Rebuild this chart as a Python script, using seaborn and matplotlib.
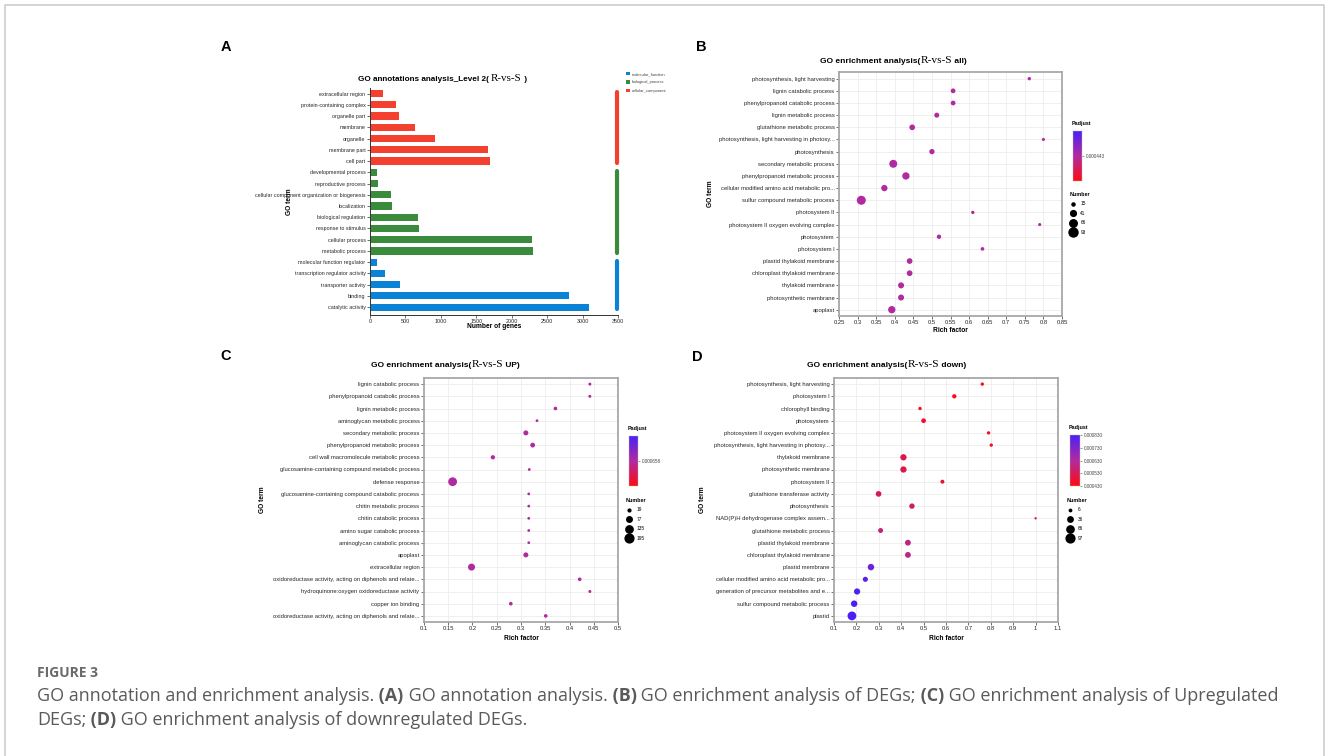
import numpy as np
import pandas as pd
import matplotlib
matplotlib.use('Agg')
import matplotlib.pyplot as plt
import seaborn as sns
from matplotlib.colors import LinearSegmentedColormap, Normalize
from matplotlib.lines import Line2D
from matplotlib.patches import Patch
import matplotlib.cm as cm

W, H = 1328, 756

# ---------------- data ----------------
# Panel A: GO annotation level 2 (top to bottom)
a_terms = ['extracellular region', 'protein-containing complex', 'organelle part', 'membrane',
           'organelle', 'membrane part', 'cell part',
           'developmental process', 'reproductive process',
           'cellular component organization or biogenesis', 'localization',
           'biological regulation', 'response to stimulus', 'cellular process', 'metabolic process',
           'molecular function regulator', 'transcription regulator activity',
           'transporter activity', 'binding', 'catalytic activity']
a_counts = [178, 366, 413, 632, 912, 1670, 1695,
            98, 108, 292, 305, 683, 688, 2280, 2302,
            95, 216, 427, 2812, 3088]
a_class = ['cellular_component'] * 7 + ['biological_process'] * 8 + ['molecular_function'] * 5
a_classes = ['molecular_function', 'biological_process', 'cellular_component']
a_colors = {'molecular_function': '#0a83d6', 'biological_process': '#3a8c3c',
            'cellular_component': '#f4412f'}

# Panel B: enrichment all
b_terms = ['photosynthesis, light harvesting', 'lignin catabolic process',
           'phenylpropanoid catabolic process', 'lignin metabolic process',
           'glutathione metabolic process', 'photosynthesis, light harvesting in photosy...',
           'photosynthesis', 'secondary metabolic process', 'phenylpropanoid metabolic process',
           'cellular modified amino acid metabolic pro...', 'sulfur compound metabolic process',
           'photosystem II', 'photosystem II oxygen evolving complex', 'photosystem',
           'photosystem I', 'plastid thylakoid membrane', 'chloroplast thylakoid membrane',
           'thylakoid membrane', 'photosynthetic membrane', 'apoplast']
b_rich = [0.762, 0.557, 0.557, 0.513, 0.447, 0.80, 0.50, 0.396, 0.43, 0.372, 0.31,
          0.61, 0.79, 0.519, 0.636, 0.44, 0.44, 0.417, 0.417, 0.392]
b_number = [17, 29, 29, 32, 40, 15, 35, 74, 63, 48, 93, 17, 15, 25, 19, 40, 40, 44, 44, 63]
b_padj = 0.000443
b_size_ticks = [15, 41, 66, 93]

# Panel C: enrichment up
c_terms = ['lignin catabolic process', 'phenylpropanoid catabolic process',
           'lignin metabolic process', 'aminoglycan metabolic process',
           'secondary metabolic process', 'phenylpropanoid metabolic process',
           'cell wall macromolecule metabolic process',
           'glucosamine-containing compound metabolic process', 'defense response',
           'glucosamine-containing compound catabolic process', 'chitin metabolic process',
           'chitin catabolic process', 'amino sugar catabolic process',
           'aminoglycan catabolic process', 'apoplast', 'extracellular region',
           'oxidoreductase activity, acting on diphenols and relate...',
           'hydroquinone:oxygen oxidoreductase activity', 'copper ion binding',
           'oxidoreductase activity, acting on diphenols and relate...']
c_rich = [0.442, 0.442, 0.371, 0.333, 0.310, 0.324, 0.242, 0.317, 0.159, 0.316, 0.316,
          0.316, 0.316, 0.316, 0.310, 0.198, 0.421, 0.442, 0.279, 0.351]
c_number = [22, 22, 33, 19, 63, 58, 46, 19, 195, 19, 19, 19, 19, 19, 63, 124, 33, 22, 33, 33]
c_padj = 0.000658
c_size_ticks = [19, 77, 135, 195]

# Panel D: enrichment down
d_terms = ['photosynthesis, light harvesting', 'photosystem I', 'chlorophyll binding',
           'photosystem', 'photosystem II oxygen evolving complex',
           'photosynthesis, light harvesting in photosy...', 'thylakoid membrane',
           'photosynthetic membrane', 'photosystem II', 'glutathione transferase activity',
           'photosynthesis', 'NAD(P)H dehydrogenase complex assem...',
           'glutathione metabolic process', 'plastid thylakoid membrane',
           'chloroplast thylakoid membrane', 'plastid membrane',
           'cellular modified amino acid metabolic pro...',
           'generation of precursor metabolites and e...', 'sulfur compound metabolic process',
           'plastid']
d_rich = [0.762, 0.637, 0.484, 0.50, 0.79, 0.802, 0.41, 0.41, 0.584, 0.299, 0.448, 1.0,
          0.308, 0.43, 0.43, 0.265, 0.24, 0.203, 0.19, 0.18]
d_number = [13, 22, 13, 27, 13, 13, 49, 49, 19, 40, 36, 6, 30, 42, 42, 52, 32, 48, 52, 97]
d_padj = [0.000435, 0.000440, 0.000445, 0.000470, 0.000450, 0.000455, 0.000510, 0.000510,
          0.000480, 0.000530, 0.000545, 0.000560, 0.000570, 0.000590, 0.000590, 0.000760,
          0.000800, 0.000815, 0.000825, 0.000830]
d_padj_ticks = [0.00043, 0.00053, 0.00063, 0.00073, 0.00083]
d_size_ticks = [6, 36, 66, 97]

# ---------------- style ----------------
plt.rcParams['font.family'] = ['Liberation Sans', 'DejaVu Sans']
plt.rcParams['axes.unicode_minus'] = False
cmap = LinearSegmentedColormap.from_list('padj', ['#ff0a0f', '#b02aa0', '#4a20f6'])
TEXTC = '#262626'


def box(l, t, r, b):
    return [l / W, 1 - b / H, (r - l) / W, (b - t) / H]


fig = plt.figure(figsize=(W / 100, H / 100), dpi=100)
fig.patch.set_facecolor('white')
bg = fig.add_axes([0, 0, 1, 1])
bg.set_xlim(0, W)
bg.set_ylim(H, 0)
bg.axis('off')

# frame of the figure card
bg.plot([4.5, 4.5, 1324, 1324], [H, 4.5, 4.5, H], color='#c9c9c9', lw=1.1)


def text_runs(x, y, parts):
    prev = None
    for s, kw in parts:
        if prev is None:
            prev = bg.text(x, y, s, va='baseline', ha='left', **kw)
        else:
            prev = bg.annotate(s, xy=(1, 0), xycoords=prev, va='bottom', ha='left', **kw)
    return prev


def title_runs(x, y, head, tail, size=6.0):
    bold = dict(fontsize=size, fontweight='bold', color='black')
    serif = dict(fontsize=size * 1.35, family=['Liberation Serif'], color='black')
    text_runs(x, y, [(head, bold), ('R-vs-S', serif), (tail, bold)])


# panel letters
for lab, (x, y) in zip('ABCD', [(226, 47), (701, 47), (226, 356), (697, 357)]):
    bg.text(x, y, lab, fontsize=10.5, fontweight='bold', ha='center', va='center')


def style_ticks(ax, size):
    ax.tick_params(axis='both', labelsize=size, length=2, width=0.5, pad=1.2,
                   colors='#333333', labelcolor=TEXTC)


# ---------------- panel A ----------------
axA = fig.add_axes(box(370, 88, 618, 315))
df_a = pd.DataFrame({'term': a_terms, 'count': a_counts, 'ontology': a_class})
sns.barplot(data=df_a, x='count', y='term', hue='ontology', palette=a_colors, dodge=False,
            width=0.64, saturation=1, legend=False, ax=axA)
axA.set_xlim(0, 3500)
axA.set_xticks(np.arange(0, 3501, 500))
axA.set_ylim(len(a_terms) - 0.3, -0.5)
for sp in ['top', 'right']:
    axA.spines[sp].set_visible(False)
for sp in ['left', 'bottom']:
    axA.spines[sp].set_color('#333333')
    axA.spines[sp].set_linewidth(0.7)
style_ticks(axA, 3.9)
axA.set_xlabel('Number of genes', fontsize=4.8, fontweight='bold')
axA.xaxis.set_label_coords(0.5, -(326 - 315) / 227)
axA.xaxis.label.set_va('center')
axA.set_ylabel('GO term', fontsize=4.8, fontweight='bold')
axA.yaxis.set_label_coords((289 - 370) / 248, 0.5)
axA.yaxis.label.set_va('center')
# ontology side bars
for cls in a_classes:
    idx = [i for i, c in enumerate(a_class) if c == cls]
    axA.plot([3483, 3483], [min(idx) - 0.1, max(idx) + 0.2], color=a_colors[cls], lw=3.0,
             solid_capstyle='round', clip_on=False)
axA.legend([Patch(facecolor=a_colors[c]) for c in a_classes], a_classes, loc='upper left',
           bbox_to_anchor=(626 / W, 1 - 72 / H), bbox_transform=fig.transFigure,
           frameon=False, fontsize=2.9, handlelength=1.0, handleheight=0.9,
           handletextpad=0.4, labelspacing=1.05, borderpad=0, borderaxespad=0,
           labelcolor='#444444')
title_runs(358, 81, 'GO annotations analysis_Level 2( ', ' )', size=5.9)


# ---------------- enrichment panels ----------------
def enrich(ax, terms, rich, number, padj, norm, sizes, size_norm, xlim, xstep):
    n = len(terms)
    if np.ndim(padj) == 0:
        padj = [padj] * n
    df = pd.DataFrame({'pos': np.arange(n), 'rich': rich, 'number': number, 'padj': padj})
    sns.scatterplot(data=df, x='rich', y='pos', hue='padj', hue_norm=norm, palette=cmap,
                    size='number', sizes=sizes, size_norm=size_norm, linewidth=0,
                    legend=False, ax=ax, zorder=3)
    ax.set_yticks(range(n))
    ax.set_yticklabels(terms)
    ax.set_ylim(n - 0.5, -0.5)
    ax.set_xlim(*xlim)
    ax.set_xticks(np.arange(xlim[0], xlim[1] + xstep / 2, xstep))
    ax.xaxis.set_major_formatter(matplotlib.ticker.FormatStrFormatter('%g'))
    ax.grid(True, color='#ececec', lw=0.6)
    ax.set_axisbelow(True)
    for sp in ax.spines.values():
        sp.set_color('#a8a8a8')
        sp.set_linewidth(1.3)
    style_ticks(ax, 4.2)
    ax.set_xlabel('Rich factor', fontsize=4.8, fontweight='bold')
    ax.xaxis.label.set_va('center')
    ax.set_ylabel('GO term', fontsize=4.8, fontweight='bold')
    ax.yaxis.label.set_va('center')


def size_of(v, sizes, size_norm):
    return sizes[0] + (v - size_norm[0]) / (size_norm[1] - size_norm[0]) * (sizes[1] - sizes[0])


def legends(ax, cax_box, norm, ticks, ticklabels, size_ticks, sizes, size_norm, leg_xy):
    cax = fig.add_axes(box(*cax_box))
    cb = fig.colorbar(cm.ScalarMappable(norm=norm, cmap=cmap), cax=cax)
    cb.outline.set_linewidth(0.3)
    cb.outline.set_edgecolor('#bbbbbb')
    cb.set_ticks(ticks)
    cb.set_ticklabels(ticklabels)
    cax.tick_params(labelsize=3.3, length=1.5, width=0.4, pad=1, colors='#444444')
    cax.text(-0.15, 1.1, 'Padjust', transform=cax.transAxes, fontsize=3.9,
             fontweight='bold', va='bottom', ha='left')
    handles = [Line2D([], [], ls='', marker='o', color='black',
                      markersize=np.sqrt(size_of(v, sizes, size_norm))) for v in size_ticks]
    leg = ax.legend(handles, [str(v) for v in size_ticks], title='Number', loc='upper left',
                    bbox_to_anchor=(leg_xy[0] / W, 1 - leg_xy[1] / H),
                    bbox_transform=fig.transFigure, frameon=False, fontsize=3.4,
                    title_fontproperties={'weight': 'bold', 'size': 3.9}, alignment='left',
                    handlelength=1.3, handletextpad=0.9, labelspacing=0.95, borderpad=0,
                    borderaxespad=0)
    return leg


# B
axB = fig.add_axes(box(839, 72, 1062, 316))
normB = Normalize(b_padj - 1e-5, b_padj + 1e-5)
szB, snB = (5, 42), (min(b_number), max(b_number))
enrich(axB, b_terms, b_rich, b_number, b_padj, normB, szB, snB, (0.25, 0.85), 0.05)
axB.set_ylim(len(b_terms) - 0.48, -0.55)
axB.xaxis.set_label_coords(0.5, -(331 - 316) / 244)
axB.yaxis.set_label_coords((711 - 839) / 223, 0.5)
legends(axB, (1073, 131, 1082, 181), normB, [b_padj], ['0.000443'], b_size_ticks, szB, snB,
        (1070, 192))
title_runs(820, 63, 'GO enrichment analysis(', ' all)', size=6.05)

# C
axC = fig.add_axes(box(424, 378, 618, 622))
normC = Normalize(c_padj - 1e-5, c_padj + 1e-5)
szC, snC = (4, 40), (min(c_number), max(c_number))
enrich(axC, c_terms, c_rich, c_number, c_padj, normC, szC, snC, (0.1, 0.5), 0.05)
axC.xaxis.set_label_coords(0.5, -(638 - 622) / 244)
axC.yaxis.set_label_coords((263 - 424) / 194, 0.5)
legends(axC, (629, 436, 638, 486), normC, [c_padj], ['0.000658'], c_size_ticks, szC, snC,
        (626, 498))
title_runs(371, 367, 'GO enrichment analysis(', ' UP)', size=6.05)

# D
axD = fig.add_axes(box(834, 378, 1058, 622))
normD = Normalize(min(d_padj_ticks), max(d_padj_ticks))
szD, snD = (3, 40), (min(d_number), max(d_number))
enrich(axD, d_terms, d_rich, d_number, d_padj, normD, szD, snD, (0.1, 1.1), 0.1)
axD.xaxis.set_label_coords(0.5, -(638 - 622) / 244)
axD.yaxis.set_label_coords((703 - 834) / 224, 0.5)
legends(axD, (1070, 435, 1080, 486), normD, d_padj_ticks,
        ['%.6f' % v for v in d_padj_ticks], d_size_ticks, szD, snD, (1067, 498))
title_runs(807, 367, 'GO enrichment analysis(', ' down)', size=6.05)

# ---------------- caption ----------------
norm_kw = dict(fontsize=13.0, color='#5a5a5a', family=['Open Sans', 'DejaVu Sans'])
bold_kw = dict(fontsize=13.0, color='#5a5a5a', family=['Open Sans', 'DejaVu Sans'],
               fontweight='bold')
bg.text(37, 677, 'FIGURE 3', fontsize=10, color='#6a6a6a', fontweight='bold',
        family=['Open Sans', 'DejaVu Sans'], va='baseline')
text_runs(37, 701, [('GO annotation and enrichment analysis.', norm_kw), (' (A)', bold_kw),
                    (' GO annotation analysis.', norm_kw), (' (B)', bold_kw),
                    (' GO enrichment analysis of DEGs;', norm_kw), (' (C)', bold_kw),
                    (' GO enrichment analysis of Upregulated', norm_kw)])
text_runs(37, 725, [('DEGs;', norm_kw), (' (D)', bold_kw),
                    (' GO enrichment analysis of downregulated DEGs.', norm_kw)])

fig.savefig('out.png', dpi=100, facecolor='white')
